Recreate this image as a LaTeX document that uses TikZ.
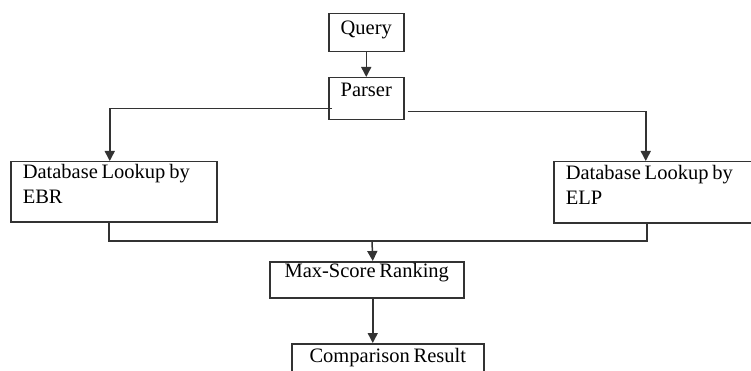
\documentclass[tikz,border=0pt]{standalone}
\usepackage{fontspec}
\setmainfont{Liberation Serif}[WordSpace=0.75]
\usetikzlibrary{positioning, calc, arrows.meta}

\tikzset{
    box/.style={draw=black!80, line width=1.5pt, inner sep=0pt, anchor=north west,
        font=\fontsize{20.5pt}{25pt}\selectfont},
    arr/.style={draw=black!80, line width=1.5pt, -{Triangle[length=10pt,width=10pt]}},
    bus/.style={draw=black!80, line width=1.5pt}
}

\begin{document}
\begin{tikzpicture}[x=1pt,y=-1pt]
        \useasboundingbox (0,0) rectangle (751,371);
        % disegno query e parser
        \node[box, minimum width=75pt, text height=21pt, text depth=17pt] (query) at (328,13) {Query};
        \node[box, minimum width=75pt, text height=19pt, text depth=23pt] (parser) at (328,77) {Parser};
        % disegno i due lookup
        \node[box, minimum width=206pt, text width=182pt, align=flush left, text height=17pt, text depth=43pt] (ebr) at (10,161) {Database Lookup by\\EBR};
        \node[box, minimum width=200pt, text width=176pt, align=flush left, text height=18pt, text depth=43pt] (elp) at (553,161) {Database Lookup by\\ELP};
        % disegno ranking e risultato
        \node[box, minimum width=194pt, text height=16pt, text depth=20pt] (maxscore) at (269,261) {Max-Score Ranking};
        \node[box, minimum width=192pt, text height=19pt, text depth=22pt] (result) at (291,343) {Comparison Result};
        \coordinate (join) at (372,241);
        % frecce
        \draw[arr] (query) -- (parser);
        \draw[arr] ([shift={(4pt,-10pt)}]parser.west) -| ([xshift=-4pt]ebr.north);
        \draw[arr] ([shift={(3pt,-13pt)}]parser.east) -| ([xshift=-8pt]elp.north);
        \draw[bus] ([xshift=-5pt]ebr.south) |- (join) -| ([xshift=-7pt]elp.south);
        \draw[arr] (join) -- ([xshift=6pt]maxscore.north);
        \draw[arr] ([xshift=6pt]maxscore.south) -- ([xshift=-15pt]result.north);
    \end{tikzpicture}
\end{document}
